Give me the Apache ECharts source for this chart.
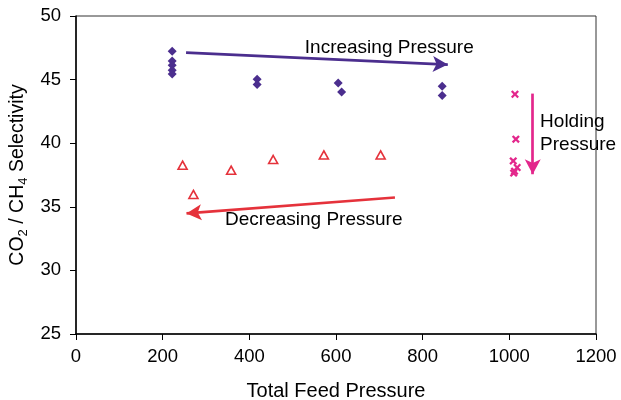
<!DOCTYPE html>
<html><head><meta charset="utf-8">
<script src="https://cdn.jsdelivr.net/npm/echarts@6/dist/echarts.min.js"></script>
<style>html,body{margin:0;padding:0;background:#fff}#c{width:621px;height:400px}</style>
</head><body><div id="c"></div>
<script>
// Data
const increasing = [[222,47.23],[222,46.47],[222,46.13],[222,45.74],[222,45.45],[418,45.03],[418,44.61],[605,44.74],[613,44.03],[845,44.48],[845,43.75]];
const decreasing = [[246,38.27],[271,35.97],[358,37.88],[455,38.72],[572,39.08],[703,39.08]];
const holding = [[1013,43.85],[1015,40.32],[1009,38.61],[1018,38.09],[1012,37.8],[1010,37.65]];
const xTicks = [0,200,400,600,800,1000,1200];
const yTicks = [25,30,35,40,45,50];
// Annotation arrows (data units) and texts
const incArrow = [[254,47.12],[858,46.18]];
const decArrow = [[736,35.73],[255,34.48]];
const holdArrow = [[1054,43.9],[1054,37.56]];
const texts = [
  {value:[528,47.5], text:'Increasing Pressure'},
  {value:[344,34.0], text:'Decreasing Pressure'},
  {value:[1071,40.75], text:'Holding\nPressure'}
];

const purple = '#4B2E8E', red = '#E5323B', pink = '#E3278C';
const font = 'Liberation Sans, Arial, sans-serif';
const xPath = 'path://M0,2L2,0L5,3L8,0L10,2L7,5L10,8L8,10L5,7L2,10L0,8L3,5Z';

function arrow(pts, color){
  return {silent:true, symbol:['none','arrow'], symbolSize:[12,15],
    lineStyle:{color:color,width:2.7,type:'solid',opacity:1}, label:{show:false},
    data:[[{coord:pts[0]},{coord:pts[1]}]]};
}

const chart = echarts.init(document.getElementById('c'), null, {renderer:'canvas'});
chart.setOption({
  animation:false,
  backgroundColor:'#fff',
  textStyle:{fontFamily:font},
  grid:{left:76,right:25,top:16,bottom:66,containLabel:false,outerBoundsMode:'none',
    show:true,borderColor:'#333',borderWidth:1,backgroundColor:'transparent'},
  xAxis:{type:'value',min:xTicks[0],max:xTicks[xTicks.length-1],interval:200,
    name:'Total Feed Pressure',nameLocation:'middle',nameGap:47,
    nameTextStyle:{fontSize:20,color:'#000',fontFamily:font},
    axisLine:{lineStyle:{color:'#000',width:1.5}},
    axisTick:{show:true,inside:false,length:6,lineStyle:{color:'#000'}},
    axisLabel:{fontSize:18.5,color:'#000',margin:13,fontFamily:font,formatter:v=>String(v)},
    splitLine:{show:false}},
  yAxis:{type:'value',min:yTicks[0],max:yTicks[yTicks.length-1],interval:5,
    name:'{a|CO}{s|2}{a| / CH}{s|4}{a| Selectivity}',nameLocation:'middle',nameGap:41,
    nameTextStyle:{fontFamily:font,rich:{
      a:{fontSize:19.5,color:'#000',fontFamily:font,lineHeight:24},
      s:{fontSize:13,color:'#000',fontFamily:font,lineHeight:24,verticalAlign:'bottom',padding:[7,0,0,0]}}},
    axisLine:{lineStyle:{color:'#000',width:1.5}},
    axisTick:{show:true,inside:false,length:6,lineStyle:{color:'#000'}},
    axisLabel:{fontSize:18.5,color:'#000',margin:15,fontFamily:font,formatter:v=>String(v)},
    splitLine:{show:false}},
  series:[
    {name:'Increasing',type:'scatter',data:increasing,symbol:'diamond',symbolSize:[9,9],
      itemStyle:{color:purple,opacity:1},markLine:arrow(incArrow,purple)},
    {name:'Decreasing',type:'scatter',data:decreasing,symbol:'triangle',symbolSize:[9,8],
      itemStyle:{color:'#fff',borderColor:red,borderWidth:1.6,opacity:1},markLine:arrow(decArrow,red)},
    {name:'Holding',type:'scatter',data:holding,symbol:xPath,symbolSize:[8,8],
      itemStyle:{color:pink,opacity:1},markLine:arrow(holdArrow,pink)},
    {name:'Notes',type:'scatter',symbolSize:0,silent:true,itemStyle:{opacity:1},
      data:texts.map(t=>({value:t.value,label:{formatter:t.text}})),
      label:{show:true,position:'right',distance:0,fontSize:19,color:'#000',fontFamily:font,lineHeight:23,align:'left'}}
  ]
});
</script></body></html>
